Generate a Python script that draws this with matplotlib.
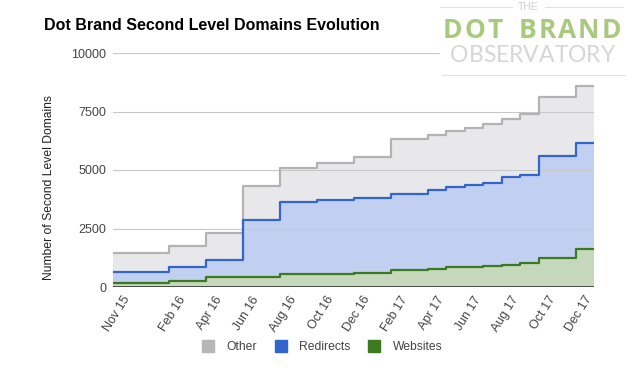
import matplotlib
matplotlib.use("Agg")
import matplotlib.pyplot as plt
from matplotlib.patches import Rectangle
from matplotlib.lines import Line2D

plt.rcParams["font.family"] = ["Liberation Sans", "DejaVu Sans"]

# snapshot months (month offset from Nov 15) and totals at each snapshot
MONTHS = ["Nov 15", "Dec 15", "Jan 16", "Feb 16", "Mar 16", "Apr 16", "May 16",
          "Jun 16", "Jul 16", "Aug 16", "Sep 16", "Oct 16", "Nov 16", "Dec 16",
          "Jan 17", "Feb 17", "Mar 17", "Apr 17", "May 17", "Jun 17", "Jul 17",
          "Aug 17", "Sep 17", "Oct 17", "Nov 17", "Dec 17"]
SNAPSHOTS = ["Nov 15", "Feb 16", "Apr 16", "Jun 16", "Aug 16", "Oct 16", "Dec 16",
             "Feb 17", "Apr 17", "May 17", "Jun 17", "Jul 17", "Aug 17", "Sep 17",
             "Oct 17", "Dec 17"]
OTHER     = [1440, 1765, 2290, 4310, 5065, 5310, 5540, 6305, 6490, 6675, 6815,
             6985, 7200, 7385, 8100, 8600]
REDIRECTS = [655, 840, 1150, 2860, 3615, 3715, 3815, 3970, 4140, 4285, 4355,
             4455, 4710, 4780, 5610, 6135]
WEBSITES  = [155, 240, 415, 440, 550, 560, 585, 725, 770, 840, 870, 895, 925,
             1010, 1250, 1620]
TICK_LABELS = ["Nov 15", "Feb 16", "Apr 16", "Jun 16", "Aug 16", "Oct 16", "Dec 16",
               "Feb 17", "Apr 17", "Jun 17", "Aug 17", "Oct 17", "Dec 17"]

x = [MONTHS.index(m) for m in SNAPSHOTS] + [len(MONTHS)]

W, H = 626, 372
fig = plt.figure(figsize=(W / 100, H / 100), dpi=100)
ax = fig.add_axes([113 / W, 1 - 287 / H, 481 / W, 234 / H])

series = [
    ("Other",     OTHER,     "#b3b3b3", "#e8e7ea"),
    ("Redirects", REDIRECTS, "#3366cc", "#c1d0f0"),
    ("Websites",  WEBSITES,  "#3b7a1f", "#c6d8bc"),
]
for i, (name, vals, lc, fc) in enumerate(series):
    y = vals + [vals[-1]]
    ax.fill_between(x, y, 0, step="post", color=fc, lw=0, zorder=1 + i)
    ax.step(x, y, where="post", color=lc, lw=1.6, zorder=5 + i)

for v in [2500, 5000, 7500, 10000]:
    ax.axhline(v, color="#c8c8c8", lw=0.8, zorder=4)
ax.axhline(0, color="#333333", lw=1.2, zorder=9)

ax.set_xlim(0, len(MONTHS))
ax.set_ylim(0, 10000)
ax.set_yticks([0, 2500, 5000, 7500, 10000])
ax.set_yticklabels(["0", "2500", "5000", "7500", "10000"], fontsize=9, color="#444444")
ax.set_xticks([MONTHS.index(t) + 0.5 for t in TICK_LABELS])
ax.set_xticklabels(TICK_LABELS, rotation=58, ha="right", rotation_mode="anchor",
                   fontsize=9, color="#444444")
ax.tick_params(length=0, pad=5)
for s in ax.spines.values():
    s.set_visible(False)
ax.set_ylabel("Number of Second Level Domains", fontsize=8.7, color="#222222")
ax.yaxis.set_label_coords(-(113 - 55) / 481, (287 - 188) / 234)

fig.text(44 / W, 1 - 25 / H, "Dot Brand Second Level Domains Evolution",
         fontsize=11.5, fontweight="bold", va="center", ha="left")


# ── logo ─────────────────────────────────────────────────────────────────────
fig.patches.append(Rectangle((440 / W, 1 - 78 / H), 186 / W, 78 / H,
                             transform=fig.transFigure, color="white", zorder=20))
renderer = fig.canvas.get_renderer()


def tracked(x0, x1, yc, s, **kw):
    """Letter-spaced text filling x0..x1 (pixels)."""
    widths = []
    for ch in s:
        if ch == " ":
            widths.append(None)
            continue
        t = fig.text(0, 0, ch, **kw)
        widths.append(t.get_window_extent(renderer).width)
        t.remove()
    sp = 0.6 * max(w for w in widths if w)
    widths = [sp if w is None else w for w in widths]
    gap = (x1 - x0 - sum(widths)) / (len(s) - 1)
    xp = x0
    for ch, w in zip(s, widths):
        if ch != " ":
            fig.text(xp / W, 1 - yc / H, ch, ha="left", va="center", zorder=21, **kw)
        xp += w + gap


tracked(443, 621, 30, "DOT BRAND", fontsize=19, fontweight="bold", color="#a9c97f",
        family=["Open Sans", "DejaVu Sans"])
tracked(450, 615, 55, "OBSERVATORY", fontsize=16.5, color="#d6d6d6",
        family=["Lato", "DejaVu Sans"])
fig.text(528 / W, 1 - 7 / H, "THE", fontsize=7.5, color="#cfcfcf", ha="center",
         va="center", zorder=21)
for (a, b, yy) in [(440, 512, 7), (545, 623, 7), (442, 626, 75)]:
    fig.add_artist(Line2D([a / W, b / W], [1 - yy / H, 1 - yy / H],
                          color="#e0e0e0", lw=0.8, zorder=21))

handles = [Line2D([], [], marker="s", ls="", ms=8, color=c)
           for c in ["#b7b7b7", "#3366cc", "#3b7a1f"]]
fig.legend(handles, ["Other", "Redirects", "Websites"], loc="center",
           bbox_to_anchor=(319 / W, 1 - 347 / H), ncol=3, frameon=False,
           fontsize=8.7, labelcolor="#444444", handletextpad=0.5, columnspacing=1.0)

fig.savefig("out.png", dpi=100)
